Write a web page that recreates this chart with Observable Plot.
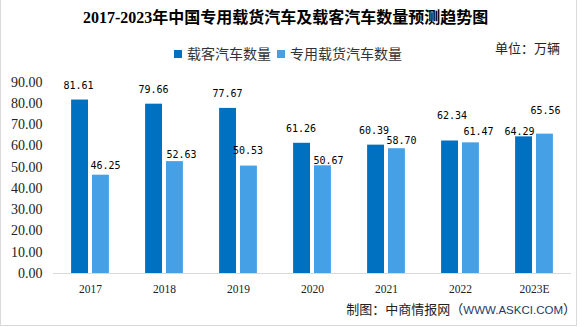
<!DOCTYPE html>
<html><head><meta charset="utf-8">
<script src="https://cdn.jsdelivr.net/npm/d3@7"></script>
<script src="https://cdn.jsdelivr.net/npm/@observablehq/plot@0.6"></script>
<style>
html,body{margin:0;padding:0;background:#fff;}
#wrap{position:relative;width:585px;height:327px;overflow:hidden;background:#fff;font-family:"Noto Sans CJK SC",sans-serif;}
#wrap svg{position:absolute;left:0;top:0;}
.abs{position:absolute;white-space:nowrap;}
#title{left:83px;top:8px;font-size:16px;font-weight:700;color:#000;line-height:20px;font-family:"Liberation Serif","Noto Sans CJK SC",serif;}
#legend{left:174px;top:44px;font-size:14px;color:#333;line-height:18px;}
#legend .sw{display:inline-block;width:8px;height:8px;margin-right:5px;vertical-align:1px;}
#legend .it{margin-right:6px;}
#unit{left:495px;top:39px;font-size:13px;color:#222;line-height:18px;}
#caption{right:9px;top:300px;font-size:13px;color:#222;line-height:18px;}
#caption .url{font-family:"Liberation Sans",sans-serif;font-size:11.5px;color:#1f3864;}
#border{left:0;top:0;width:575px;height:325px;border-left:1px solid #d9d9d9;border-right:1px solid #d9d9d9;border-bottom:1px solid #d9d9d9;}
</style></head>
<body>
<div id="wrap">
  <div id="border" class="abs"></div>
  <div id="chart"></div>
  <div id="title" class="abs"></div>
  <div id="legend" class="abs"></div>
  <div id="unit" class="abs"></div>
  <div id="caption" class="abs"></div>
</div>
<script>
const titleText = "2017-2023年中国专用载货汽车及载客汽车数量预测趋势图";
const unitText = "单位：万辆";
const captionPrefix = "制图：中商情报网（";
const captionUrl = "WWW.ASKCI.COM";
const captionSuffix = "）";
const years = ["2017","2018","2019","2020","2021","2022","2023E"];
const seriesNames = ["载客汽车数量","专用载货汽车数量"];
const passenger = [81.61,79.66,77.67,61.26,60.39,62.34,64.29];
const cargo = [46.25,52.63,50.53,50.67,58.70,61.47,65.56];
const yTicks = [0,10,20,30,40,50,60,70,80,90];
const colors = ["#0070C0","#45A0E6"];
// label nudges (pixels) to reproduce the reference's label placement
const passengerLabelLift = [14.7,14.4,14.6,14.5,14.6,25.5,5.3];
const passengerLabelShift = [-1.5,-0.5,-0.5,-1,-2,2,-4.5];
const cargoLabelLift = [9,7,15,5.3,8,10.6,23.6];
const cargoLabelShift = [4.5,6.5,-1,5.5,4.5,7.5,0.5];

const data = years.flatMap((y,i)=>[
  {year:y, series:seriesNames[0], value:passenger[i]},
  {year:y, series:seriesNames[1], value:cargo[i]}
]);

document.getElementById("title").textContent = titleText;
document.getElementById("unit").textContent = unitText;
const cap = document.getElementById("caption");
cap.append(captionPrefix);
const u = document.createElement("span"); u.className="url"; u.textContent=captionUrl; cap.append(u);
cap.append(captionSuffix);
const leg = document.getElementById("legend");
seriesNames.forEach((s,i)=>{
  const it = document.createElement("span"); it.className="it";
  const sw = document.createElement("span"); sw.className="sw"; sw.style.background=colors[i];
  it.append(sw, s); leg.append(it);
});

const labelFont = {fontFamily:"DejaVu Sans Mono", fontSize:10, fill:"#000", lineAnchor:"middle"};
const labelMarks = years.flatMap((y,i)=>[
  Plot.text([data[2*i]], {fx:"year", x:"series", y:"value", text:d=>d.value.toFixed(2), dx:passengerLabelShift[i], dy:-passengerLabelLift[i], ...labelFont}),
  Plot.text([data[2*i+1]], {fx:"year", x:"series", y:"value", text:d=>d.value.toFixed(2), dx:cargoLabelShift[i], dy:-cargoLabelLift[i], ...labelFont})
]);

const chart = Plot.plot({
  width:585, height:327,
  marginLeft:51, marginRight:13, marginTop:81.7, marginBottom:54,
  fx:{domain:years, padding:0},
  x:{domain:seriesNames, paddingInner:0.1905, paddingOuter:0.867, round:false, axis:null},
  y:{domain:[0,90], axis:null},
  color:{domain:seriesNames, range:colors},
  style:{background:"transparent"},
  marks:[
    Plot.ruleY([0], {stroke:"#d9d9d9", strokeWidth:1}),
    Plot.barY(data, {fx:"year", x:"series", y:"value", fill:"series"}),
    ...labelMarks,
    Plot.axisY({ticks:yTicks, tickFormat:d3.format(".2f"), tickSize:0, tickPadding:11, fontSize:14, fontFamily:"Liberation Serif", fill:"#222", label:null}),
    Plot.axisFx({anchor:"bottom", tickSize:0, tickPadding:11, fontSize:11.5, fontFamily:"Liberation Serif", fill:"#222", label:null})
  ]
});
document.getElementById("chart").append(chart);
</script>
</body></html>
